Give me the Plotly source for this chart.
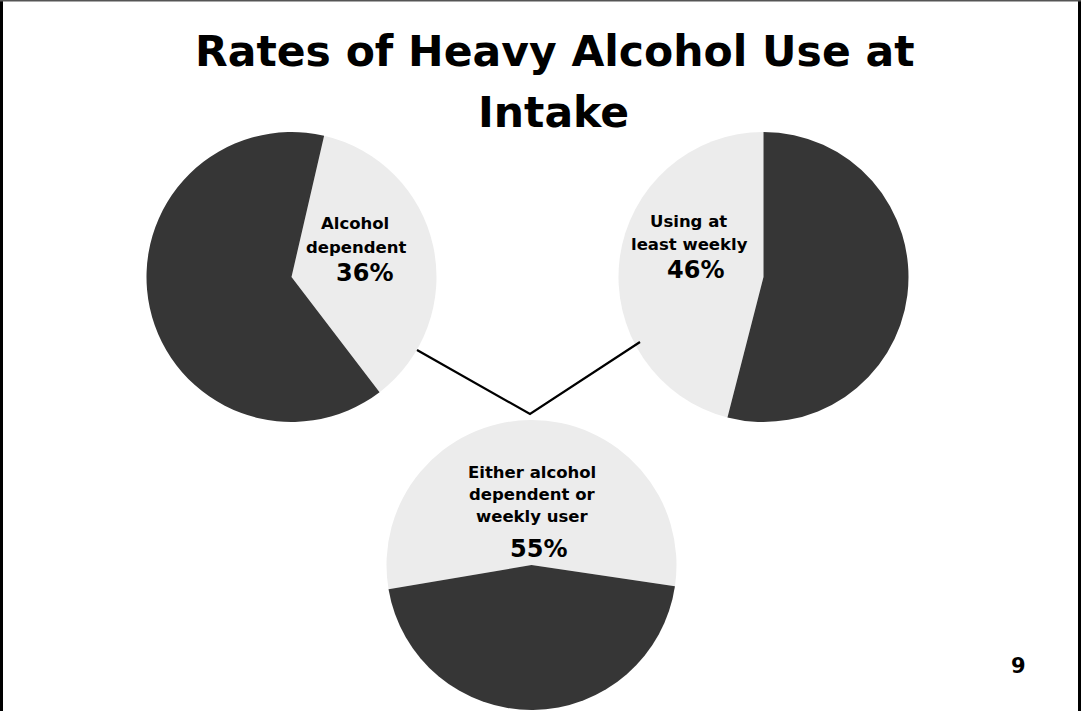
import plotly.graph_objects as go

W, H = 1081, 711

# Data
pie_names = ["Alcohol dependent", "Using at least weekly", "Either alcohol dependent or weekly user"]
yes_values = [36, 46, 55]
no_values = [64, 54, 45]
slice_labels = ["Yes", "No"]
title_lines = ["Rates of Heavy Alcohol Use at", "Intake"]
page_number = "9"

DARK = "#363636"
LIGHT = "#ECECEC"
FONT = "DejaVu Sans"

def px_domain(cx, cy, r):
    return dict(x=[(cx - r) / W, (cx + r) / W], y=[1 - (cy + r) / H, 1 - (cy - r) / H])

pies = [
    dict(cx=291.5, cy=277, r=145, rotation=13),
    dict(cx=763.5, cy=277, r=145, rotation=-165.6),
    dict(cx=531.5, cy=565, r=145, rotation=-99.6),
]

fig = go.Figure()
for i, p in enumerate(pies):
    fig.add_trace(go.Pie(
        labels=slice_labels,
        values=[yes_values[i], no_values[i]],
        name=pie_names[i],
        sort=False,
        direction="clockwise",
        rotation=p["rotation"],
        domain=px_domain(p["cx"], p["cy"], p["r"]),
        marker=dict(colors=[LIGHT, DARK], line=dict(width=0)),
        textinfo="none",
        hoverinfo="label+percent+name",
        showlegend=False,
    ))

annotations = []
def ann(text, x, y, size):
    annotations.append(dict(
        text="<b>" + text + "</b>", x=x / W, y=1 - y / H, xref="paper", yref="paper",
        xanchor="center", yanchor="middle", showarrow=False,
        font=dict(family=FONT, size=size, color="#000000"),
    ))

ann(title_lines[0], 555, 52, 42.5)
ann(title_lines[1], 553, 112, 42.5)

ann("Alcohol", 355, 223, 16.5)
ann("dependent", 356, 247, 16.5)
ann(f"{yes_values[0]}%", 364, 273, 24)

ann("Using at", 688, 222, 16.5)
ann("least weekly", 689, 245, 16.5)
ann(f"{yes_values[1]}%", 695, 270, 24)

ann("Either alcohol", 532, 472, 16.5)
ann("dependent or", 532, 494, 16.5)
ann("weekly user", 532, 516, 16.5)
ann(f"{yes_values[2]}%", 538, 549, 24)

ann(page_number, 1018, 666, 21)

shapes = [
    # connector lines
    dict(type="path", xref="paper", yref="paper",
         path=f"M {417/W},{1-350/H} L {530/W},{1-414/H} L {640/W},{1-342/H}",
         line=dict(color="#000000", width=2.2)),
    # slide border
    dict(type="rect", xref="paper", yref="paper", x0=0, x1=3 / W, y0=0, y1=1,
         fillcolor="#000000", line=dict(width=0)),
    dict(type="rect", xref="paper", yref="paper", x0=1078 / W, x1=1, y0=0, y1=1,
         fillcolor="#000000", line=dict(width=0)),
    dict(type="rect", xref="paper", yref="paper", x0=0, x1=1, y0=1 - 1.5 / H, y1=1,
         fillcolor="#555555", line=dict(width=0)),
]

fig.update_layout(
    width=W, height=H,
    margin=dict(l=0, r=0, t=0, b=0),
    paper_bgcolor="#FFFFFF", plot_bgcolor="#FFFFFF",
    annotations=annotations, shapes=shapes,
    showlegend=False,
)

fig.write_html("out.html", config={"displayModeBar": False})
